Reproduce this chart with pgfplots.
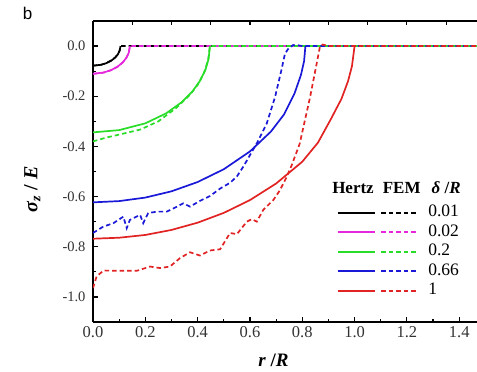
\documentclass[border=0pt]{standalone}
\usepackage{fontspec}
\setmainfont{Liberation Serif}
\newfontfamily\sansb{Liberation Sans}
\usepackage{pgfplots}
\pgfplotsset{compat=1.18}
\usetikzlibrary{calc}

\definecolor{cmag}{RGB}{230,40,220}
\definecolor{cgreen}{RGB}{40,220,40}
\definecolor{cblue}{RGB}{25,25,215}
\definecolor{cred}{RGB}{225,35,35}

\pgfplotsset{
  hz/.style={solid, line width=1.7pt},
  fe/.style={dash pattern=on 4.5pt off 3pt, line width=1.7pt},
}

\begin{document}
\begin{tikzpicture}
\begin{axis}[
  name=main,
  scale only axis, width=384pt, height=301pt,
  xmin=0, xmax=1.468, ymin=-1.1, ymax=0.1,
  axis x line*=bottom, axis y line*=left,
  axis line style={line width=1.6pt},
  tick align=inside,
  xtick={0,0.2,0.4,0.6,0.8,1.0,1.2,1.4},
  minor xtick={0.1,0.3,0.5,0.7,0.9,1.1,1.3},
  ytick={-1,-0.8,-0.6,-0.4,-0.2,0},
  minor ytick={-0.9,-0.7,-0.5,-0.3,-0.1},
  major tick length=5pt, minor tick length=3pt,
  every tick/.style={line width=1.2pt, black},
  /pgf/number format/fixed, /pgf/number format/fixed zerofill,
  /pgf/number format/precision=1, /pgf/number format/assume math mode=true,
  xticklabel style={font=\fontsize{16.5}{16.5}\selectfont, text=black!80, yshift=-1pt},
  yticklabel style={font=\fontsize{14.5}{15}\selectfont, text=black!80, xshift=-4pt},
  xlabel={\textbf{\textit{r} /\textit{R}}},
  xlabel style={font=\fontsize{19}{19}\selectfont, at={(axis description cs:0.47,-0.126)}, anchor=center},
  ylabel={\textbf{\textit{σ}\textsubscript{\textit{z}} / \textit{E}}},
  ylabel style={font=\fontsize{20}{20}\selectfont, at={(axis description cs:-0.158,0.44)}, anchor=center, rotate=0},
  legend columns=2,
  legend style={draw=none, fill=none, at={(axis cs:0.92,-0.617)}, anchor=north west,
    font=\fontsize{17.5}{17.5}\selectfont, row sep=0pt,
    nodes={inner xsep=1pt, inner ysep=2.75pt, text height=11pt, text depth=3pt},
    /tikz/column 2/.style={column sep=3pt},
    /tikz/column 3/.style={column sep=8pt}},
  legend cell align=left,
  legend image code/.code={\draw[#1] (0pt,0pt) -- (37pt,0pt);},
  legend entries={{\mbox{}},{0.01},{\mbox{}},{0.02},{\mbox{}},{0.2},{\mbox{}},{0.66},{\mbox{}},{1}},
]
% black
\addplot[hz, black] coordinates {(0,-0.078) (0.03,-0.0747) (0.05,-0.0686) (0.07,-0.0581) (0.085,-0.0458) (0.095,-0.0332) (0.102,-0.0185) (0.105,0)};
\addplot[fe, black] coordinates {(0,-0.078) (0.03,-0.075) (0.05,-0.068) (0.07,-0.057) (0.085,-0.045) (0.095,-0.032) (0.102,-0.017) (0.105,0) (1.47,0)};
% magenta
\addplot[hz, cmag] coordinates {(0,-0.110) (0.04,-0.1055) (0.07,-0.0955) (0.095,-0.0813) (0.115,-0.0636) (0.128,-0.0461) (0.137,-0.026) (0.141,0)};
\addplot[fe, cmag] coordinates {(0,-0.111) (0.04,-0.106) (0.07,-0.096) (0.095,-0.082) (0.115,-0.064) (0.128,-0.046) (0.137,-0.026) (0.141,0) (1.47,0)};
% green
\addplot[hz, cgreen] coordinates {(0,-0.344) (0.1,-0.335) (0.2,-0.308) (0.28,-0.268) (0.34,-0.223) (0.38,-0.181) (0.41,-0.137) (0.43,-0.094) (0.442,-0.051) (0.447,0)};
\addplot[fe, cgreen] coordinates {(0,-0.380) (0.05,-0.365) (0.12,-0.348) (0.18,-0.333) (0.25,-0.300) (0.32,-0.245) (0.37,-0.195) (0.40,-0.155) (0.425,-0.105) (0.44,-0.055) (0.447,0) (1.47,0)};
% blue
\addplot[hz, cblue] coordinates {(0,-0.623) (0.1,-0.618) (0.2,-0.604) (0.3,-0.579) (0.4,-0.542) (0.5,-0.491) (0.6,-0.420) (0.68,-0.341) (0.73,-0.273) (0.77,-0.190) (0.795,-0.115) (0.807,-0.060) (0.812,0)};
\addplot[fe, cblue] coordinates {(0,-0.745) (0.039,-0.72) (0.078,-0.706) (0.116,-0.68) (0.129,-0.726) (0.141,-0.693) (0.18,-0.673) (0.192,-0.706) (0.211,-0.666) (0.244,-0.66) (0.282,-0.66) (0.308,-0.647) (0.345,-0.627) (0.371,-0.64) (0.409,-0.617) (0.447,-0.598) (0.486,-0.568) (0.524,-0.545) (0.55,-0.52) (0.575,-0.48) (0.626,-0.388) (0.664,-0.309) (0.696,-0.203) (0.72,-0.097) (0.734,-0.03) (0.747,-0.01) (0.765,0.004) (0.785,0.003) (0.80,0) (1.47,0)};
% red
\addplot[hz, cred] coordinates {(0,-0.768) (0.1,-0.764) (0.2,-0.753) (0.3,-0.733) (0.4,-0.704) (0.5,-0.665) (0.6,-0.614) (0.7,-0.548) (0.8,-0.461) (0.86,-0.385) (0.91,-0.29) (0.95,-0.21) (0.975,-0.14) (0.99,-0.08) (1.0,0)};
\addplot[fe, cred] coordinates {(0,-0.965) (0.014,-0.918) (0.04,-0.895) (0.116,-0.896) (0.167,-0.896) (0.218,-0.879) (0.256,-0.885) (0.294,-0.879) (0.333,-0.845) (0.371,-0.822) (0.409,-0.835) (0.447,-0.815) (0.486,-0.81) (0.524,-0.745) (0.55,-0.75) (0.588,-0.70) (0.607,-0.69) (0.626,-0.70) (0.651,-0.653) (0.69,-0.613) (0.715,-0.574) (0.741,-0.52) (0.76,-0.474) (0.79,-0.39) (0.83,-0.203) (0.855,-0.07) (0.868,0) (0.878,0.006) (0.89,0.003) (0.90,0) (1.47,0)};

\node[font=\bfseries\fontsize{17}{17}\selectfont] at (axis cs:0.994,-0.566) {Hertz};
\node[font=\bfseries\fontsize{17}{17}\selectfont] at (axis cs:1.18,-0.566) {FEM};
\node[font=\bfseries\fontsize{17}{17}\selectfont] at (axis cs:1.35,-0.566) {\textit{δ} /\textit{R}};

\coordinate (SW) at (rel axis cs:0,0);
\coordinate (NE) at (rel axis cs:1,1);
\end{axis}
\begin{axis}[
  scale only axis, width=384pt, height=301pt,
  xmin=0, xmax=1.468, ymin=-1.1, ymax=0.1,
  axis x line*=top, axis y line=none,
  axis line style={line width=1.6pt},
  tick align=inside,
  xtick={0.15,0.3,0.45,0.6,0.75,0.9,1.05,1.2,1.35},
  xticklabels={},
  major tick length=4.5pt,
  every tick/.style={line width=1.2pt, black},
]
\end{axis}
\node[font=\sansb\fontsize{17}{17}\selectfont] at ($(SW)+(-65.5pt,309pt)$) {b};
\pgfresetboundingbox
\path[use as bounding box] ($(SW)+(-93pt,-50pt)$) rectangle ($(NE)+(0pt,21pt)$);
\end{tikzpicture}
\end{document}
